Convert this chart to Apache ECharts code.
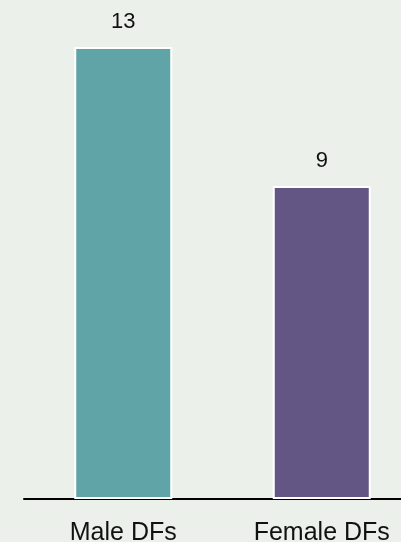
<!DOCTYPE html>
<html><head><meta charset="utf-8">
<script src="https://cdn.jsdelivr.net/npm/echarts@6/dist/echarts.min.js"></script>
<style>html,body{margin:0;padding:0;background:#ebf0eb}#c{width:401px;height:542px}</style>
</head><body><div id="c"></div>
<script>
const categories = ["Male DFs", "Female DFs"];
const values = [13, 9];
const colors = ["#60a4a7", "#635684"];
const chart = echarts.init(document.getElementById('c'), null, {renderer: 'canvas'});
chart.setOption({
  backgroundColor: '#ebf0eb',
  animation: false,
  grid: {left: 24, width: 397, top: 47, bottom: 43, containLabel: false, outerBoundsMode: 'none'},
  xAxis: {
    type: 'category', data: categories,
    axisLine: {lineStyle: {color: '#000', width: 2}},
    axisTick: {show: false},
    axisLabel: {color: '#111', fontSize: 25, fontFamily: 'Liberation Sans, Arial, sans-serif', margin: 22}
  },
  yAxis: {type: 'value', min: 0, max: 13, show: false, splitLine: {show: false}},
  series: [{
    type: 'bar', barWidth: 98,
    data: values.map((v, i) => ({value: v, itemStyle: {color: colors[i]}})),
    itemStyle: {borderColor: '#fff', borderWidth: 2},
    label: {show: true, position: 'top', distance: 14, color: '#111', fontSize: 22, fontFamily: 'Liberation Sans, Arial, sans-serif'}
  }]
});
</script></body></html>
